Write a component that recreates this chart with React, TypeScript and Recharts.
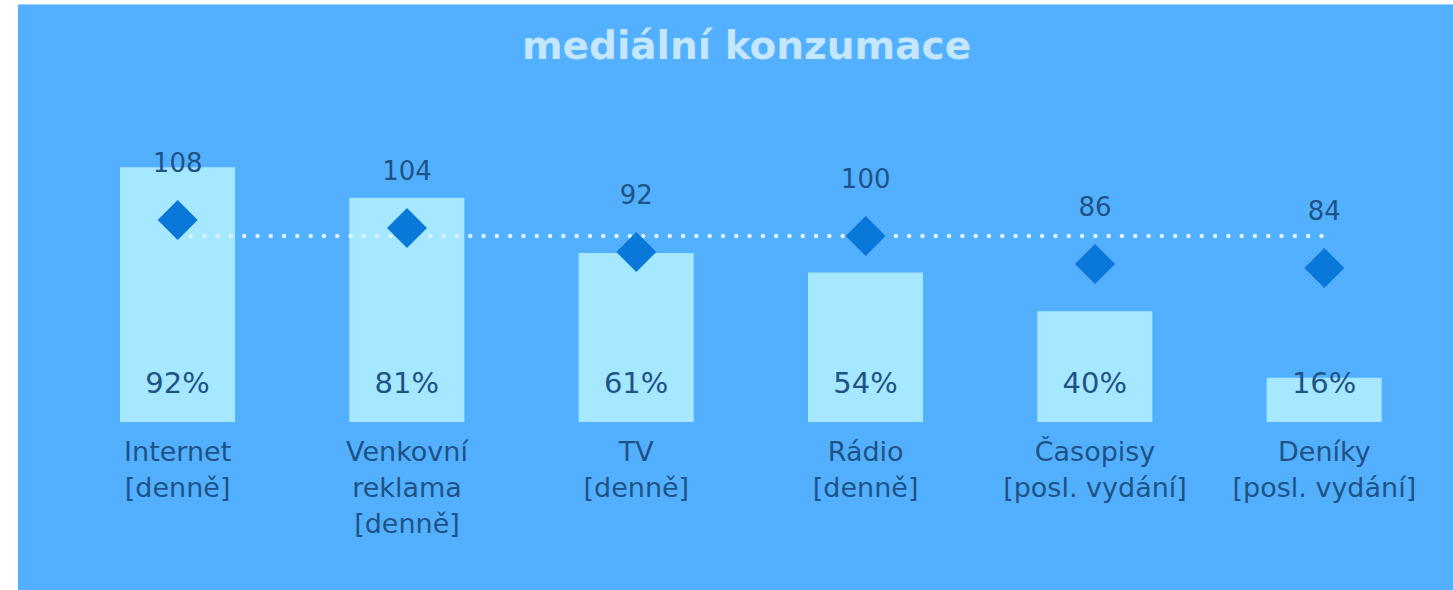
import { Bar, ComposedChart, LabelList, Line, ReferenceLine, XAxis, YAxis } from "recharts";

const categories = [
  "Internet\n[denně]",
  "Venkovní\nreklama\n[denně]",
  "TV\n[denně]",
  "Rádio\n[denně]",
  "Časopisy\n[posl. vydání]",
  "Deníky\n[posl. vydání]",
];
const reach = [92, 81, 61, 54, 40, 16];
const indexValues = [108, 104, 92, 100, 86, 84];
const baseline = 100;

const data = categories.map((name, i) => ({ name, reach: reach[i], idx: indexValues[i] }));

const FONT = "'DejaVu Sans', sans-serif";
const TEXT = "#1F5386";

const CategoryTick = (props: any) => {
  const { x, y, payload } = props;
  const lines = String(payload.value).split("\n");
  return (
    <g transform={`translate(${x},${y})`}>
      {lines.map((l, i) => (
        <text
          key={i}
          x={0}
          y={21 + i * 36}
          textAnchor="middle"
          dominantBaseline="central"
          fontFamily={FONT}
          fontSize={27}
          fill={TEXT}
        >
          {l}
        </text>
      ))}
    </g>
  );
};

const Diamond = (props: any) => {
  const { cx, cy } = props;
  if (cx == null || cy == null) return null;
  const r = 20;
  return (
    <path
      d={`M${cx},${cy - r} L${cx + r},${cy} L${cx},${cy + r} L${cx - r},${cy} Z`}
      fill="#0A78D8"
    />
  );
};

const PercentLabel = (props: any) => {
  const { x, y, width, height, value } = props;
  return (
    <text
      x={x + width / 2}
      y={y + height - 39}
      textAnchor="middle"
      dominantBaseline="central"
      fontFamily={FONT}
      fontSize={29}
      fill={TEXT}
    >
      {`${value}%`}
    </text>
  );
};

const IndexLabel = (props: any) => {
  const { x, y, value } = props;
  return (
    <text
      x={x}
      y={y - 57}
      textAnchor="middle"
      dominantBaseline="central"
      fontFamily={FONT}
      fontSize={26}
      fill={TEXT}
    >
      {value}
    </text>
  );
};

export default function App() {
  return (
    <div
      style={{
        position: "absolute",
        left: 18,
        top: 4,
        width: 1435,
        height: 586,
        background: "#52B0FF",
        borderTop: "1px solid #9fd2ff",
        boxSizing: "border-box",
      }}
    >
      <div
        style={{
          position: "absolute",
          left: 0,
          top: 18,
          width: 1457,
          textAlign: "center",
          fontFamily: FONT,
          fontWeight: "bold",
          fontSize: 39,
          color: "#C4E6FF",
        }}
      >
        mediální konzumace
      </div>
      <ComposedChart
        width={1435}
        height={585}
        data={data}
        margin={{ top: 140, right: 14, bottom: 0, left: 45 }}
      >
        <XAxis
          dataKey="name"
          axisLine={false}
          tickLine={false}
          height={168}
          interval={0}
          tick={<CategoryTick />}
        />
        <YAxis yAxisId="pct" domain={[0, 100]} hide />
        <YAxis yAxisId="idx" domain={[7, 145.5]} hide orientation="right" />
        <Bar yAxisId="pct" dataKey="reach" fill="#A6E8FF" barSize={115} isAnimationActive={false}>
          <LabelList dataKey="reach" content={<PercentLabel />} />
        </Bar>
        <ReferenceLine
          yAxisId="idx"
          segment={[
            { x: categories[0], y: baseline },
            { x: categories[categories.length - 1], y: baseline },
          ]}
          stroke="#DDF0FF"
          strokeWidth={4.5}
          strokeDasharray="0 13.3"
          strokeLinecap="round"
        />
        <Line
          yAxisId="idx"
          dataKey="idx"
          stroke="none"
          dot={<Diamond />}
          activeDot={false}
          isAnimationActive={false}
        >
          <LabelList dataKey="idx" content={<IndexLabel />} />
        </Line>
      </ComposedChart>
    </div>
  );
}
